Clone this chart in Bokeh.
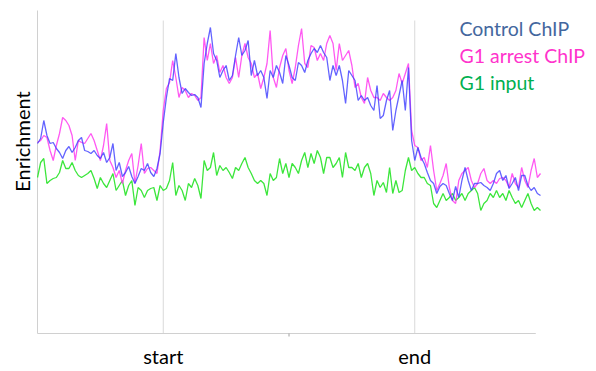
from bokeh.plotting import figure
from bokeh.models import Range1d
from bokeh.core.properties import value
from bokeh.embed import file_html
from bokeh.resources import INLINE

# genomic bins across the region (start at bin 40, end at bin 120)
tick_positions = [40, 120]
tick_labels = ["start", "end"]
mid_tick = [80]
y_axis_label = "Enrichment"

control_chip = [190,195,213,198,190,191,185,181,175,183,
                187,181,186,193,196,183,182,180,183,178,
                175,181,171,176,190,163,171,157,161,167,
                157,150,157,165,163,170,161,157,165,180,
                211,
                236,255,253,280,256,240,245,241,238,
                239,236,226,270,290,306,280,273,256,263,
                268,253,258,278,296,278,283,293,258,273,
                258,263,256,235,263,256,268,261,250,278,
                268,256,253,271,268,261,273,280,285,281,
                288,281,276,253,268,258,268,253,230,263,
                258,253,233,238,233,236,228,223,248,215,
                218,233,243,203,223,238,253,223,266,193,
                173,
                186,176,170,161,153,150,140,147,150,
                148,140,133,147,136,153,166,153,143,150,
                150,151,148,146,143,150,160,163,153,158,
                145,150,156,143,158,158,148,143,146,140,138]

g1_arrest_chip = [191,193,198,196,183,173,188,200,216,213,
                  208,198,173,193,191,190,195,200,193,183,
                  173,188,210,173,166,156,163,150,163,173,
                  180,150,168,190,160,165,166,163,160,183,
                  223,
                  245,251,273,256,236,246,243,236,240,
                  238,233,236,296,273,290,270,278,261,268,
                  256,250,256,276,256,278,290,276,270,256,
                  260,245,256,270,303,256,246,266,278,285,
                  263,250,266,288,305,270,266,288,286,273,
                  280,273,290,298,290,263,290,273,278,283,
                  268,246,250,236,230,256,243,236,236,233,
                  240,236,233,236,243,260,250,260,270,203,
                  188,
                  186,173,176,166,188,163,143,150,158,
                  170,146,133,130,153,160,163,166,153,146,
                  150,160,165,153,150,153,150,155,156,153,
                  146,160,150,146,166,153,146,163,175,156,160]

g1_input = [156,171,175,150,153,155,156,161,173,165,
            165,171,163,158,156,158,160,163,155,145,
            156,150,146,153,160,143,148,153,138,148,
            153,128,146,143,136,143,145,146,133,148,
            143,
            145,153,171,138,148,143,133,150,146,
            155,148,135,173,163,166,181,158,168,163,
            166,161,155,166,163,170,176,166,160,153,
            150,153,150,138,160,153,156,175,160,170,
            156,170,166,160,173,181,166,180,170,183,
            176,160,176,176,166,170,176,156,181,166,
            166,163,170,156,166,170,160,138,153,146,
            151,141,166,140,153,141,143,163,176,163,
            166,
            160,156,156,150,148,130,126,133,140,
            133,136,140,133,136,140,133,140,143,146,
            140,123,130,133,140,136,143,136,140,133,
            143,136,130,133,126,133,140,130,123,126,123]

bins = list(range(len(control_chip)))

series_names = ["Control ChIP", "G1 arrest ChIP", "G1 input"]
line_colors = ["#3c3cff", "#ff3cf0", "#3ce63c"]
text_colors = ["#44679e", "#ff33cc", "#00b050"]

FONT = "Lato"
Y_TOP = 313
X0, X1 = bins[0], bins[-1]

p = figure(width=596, height=367, output_backend="svg", toolbar_location=None,
           x_range=Range1d(-11.77, 177.81), y_range=Range1d(-34, 333),
           x_axis_type=None, y_axis_type=None,
           min_border_left=0, min_border_right=0, min_border_top=0,
           min_border_bottom=0)
p.outline_line_color = None
p.xgrid.visible = False
p.ygrid.visible = False
p.background_fill_color = "white"
p.border_fill_color = "white"

# gridlines at start / end
p.segment(x0=tick_positions, y0=[0] * len(tick_positions), x1=tick_positions,
          y1=[Y_TOP] * len(tick_positions), line_color="#d9d9d9", line_width=1)
# axis lines
p.segment(x0=[X0], y0=[0], x1=[X0], y1=[Y_TOP + 10], line_color="#d0d0d0", line_width=1)
p.segment(x0=[X0], y0=[0], x1=[X1 - 1.5], y1=[0], line_color="#d0d0d0", line_width=1)
# small tick at the middle
p.segment(x0=mid_tick, y0=[0], x1=mid_tick, y1=[-3], line_color="#a0a0a0", line_width=1)

p.line(bins, g1_input, line_color=line_colors[2], line_width=1.3)
p.line(bins, g1_arrest_chip, line_color=line_colors[1], line_width=1.3, line_alpha=0.85)
p.line(bins, control_chip, line_color=line_colors[0], line_width=1.3, line_alpha=0.8)

# tick labels
p.text(x=tick_positions, y=[-22] * len(tick_positions), text=tick_labels,
       text_font=value(FONT), text_font_size="20px", text_color="black",
       text_align="center", text_baseline="middle")

# legend texts
legend_y = [305, 278, 251]
p.text(x=[134.2] * 3, y=legend_y, text=series_names, text_color=text_colors,
       text_font=value(FONT), text_font_size="19.5px", text_align="left",
       text_baseline="alphabetic")

# y axis label
p.text(x=[-4.8], y=[192], text=[y_axis_label], angle=1.5708,
       text_font=value(FONT), text_font_size="20px", text_color="black",
       text_align="center", text_baseline="middle")

open("out.html", "w").write(file_html(p, INLINE))
